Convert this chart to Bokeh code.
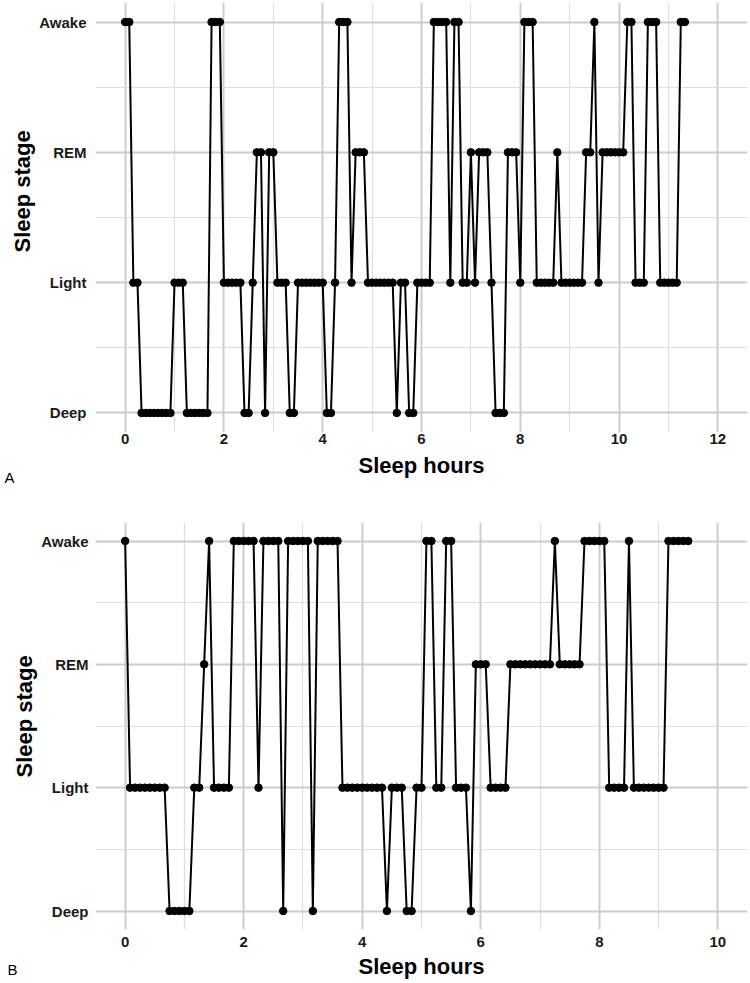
from bokeh.plotting import figure
from bokeh.models import FixedTicker, Range1d, ColumnDataSource, Title
from bokeh.layouts import column
from bokeh.embed import file_html
from bokeh.resources import INLINE

# ---- data ----
stage_levels = ["Deep", "Light", "REM", "Awake"]
stage_names = {"D": "Deep", "L": "Light", "R": "REM", "W": "Awake"}
epoch_minutes = 5

# panel A: one stage per 5-minute epoch
stages_a = [
    "W", "W", "L", "L", "D", "D", "D", "D", "D", "D", "D", "D",
    "L", "L", "L", "D", "D", "D", "D", "D", "D", "W", "W", "W",
    "L", "L", "L", "L", "L", "D", "D", "L", "R", "R", "D", "R",
    "R", "L", "L", "L", "D", "D", "L", "L", "L", "L", "L", "L",
    "L", "D", "D", "L", "W", "W", "W", "L", "R", "R", "R", "L",
    "L", "L", "L", "L", "L", "L", "D", "L", "L", "D", "D", "L",
    "L", "L", "L", "W", "W", "W", "W", "L", "W", "W", "L", "L",
    "R", "L", "R", "R", "R", "L", "D", "D", "D", "R", "R", "R",
    "L", "W", "W", "W", "L", "L", "L", "L", "L", "R", "L", "L",
    "L", "L", "L", "L", "R", "R", "W", "L", "R", "R", "R", "R",
    "R", "R", "W", "W", "L", "L", "L", "W", "W", "W", "L", "L",
    "L", "L", "L", "W", "W",
]

# panel B: one stage per 5-minute epoch
stages_b = [
    "W", "L", "L", "L", "L", "L", "L", "L", "L", "D", "D", "D",
    "D", "D", "L", "L", "R", "W", "L", "L", "L", "L", "W", "W",
    "W", "W", "W", "L", "W", "W", "W", "W", "D", "W", "W", "W",
    "W", "W", "D", "W", "W", "W", "W", "W", "L", "L", "L", "L",
    "L", "L", "L", "L", "L", "D", "L", "L", "L", "D", "D", "L",
    "L", "W", "W", "L", "L", "W", "W", "L", "L", "L", "D", "R",
    "R", "R", "L", "L", "L", "L", "R", "R", "R", "R", "R", "R",
    "R", "R", "R", "W", "R", "R", "R", "R", "R", "W", "W", "W",
    "W", "W", "L", "L", "L", "L", "W", "L", "L", "L", "L", "L",
    "L", "L", "W", "W", "W", "W", "W",
]

x_ticks_a = [0, 2, 4, 6, 8, 10, 12]
x_minor_a = [1, 3, 5, 7, 9, 11]
x_ticks_b = [0, 2, 4, 6, 8, 10]
x_minor_b = [1, 3, 5, 7, 9]

FONT = "Liberation Sans"


def hypno_source(stages):
    hours = [i * epoch_minutes / 60 for i in range(len(stages))]
    level = [stage_levels.index(stage_names[s]) + 1 for s in stages]
    return ColumnDataSource(dict(hours=hours, level=level,
                                 stage=[stage_names[s] for s in stages]))


def make_panel(stages, xr, xt, xm, height, top, bottom, left,
               xlab_standoff, xtitle_standoff, ylab_standoff, ytitle_offset,
               tag, tag_standoff):
    p = figure(width=750, height=height,
               x_range=Range1d(*xr), y_range=Range1d(0.85, 4.15),
               output_backend="svg", toolbar_location=None,
               min_border_left=left, min_border_right=3,
               min_border_top=top, min_border_bottom=bottom)
    p.outline_line_color = None
    p.background_fill_color = "white"
    p.border_fill_color = "white"

    p.xaxis.ticker = FixedTicker(ticks=xt, minor_ticks=xm)
    p.yaxis.ticker = FixedTicker(ticks=[1, 2, 3, 4], minor_ticks=[1.5, 2.5, 3.5])
    p.yaxis.major_label_overrides = {i + 1: s for i, s in enumerate(stage_levels)}

    for ax in (p.xaxis[0], p.yaxis[0]):
        ax.axis_line_color = None
        ax.major_tick_line_color = None
        ax.minor_tick_line_color = None
        ax.major_tick_out = 0
        ax.major_tick_in = 0
        ax.major_label_text_font = FONT
        ax.major_label_text_font_style = "bold"
        ax.major_label_text_font_size = "15px"
        ax.major_label_text_color = "#1a1a1a"
        ax.axis_label_text_font = FONT
        ax.axis_label_text_font_style = "bold"
        ax.axis_label_text_font_size = "22px"
        ax.axis_label_text_color = "black"

    p.xaxis.axis_label = "Sleep hours"
    p.xaxis.major_label_standoff = xlab_standoff
    p.xaxis.axis_label_standoff = xtitle_standoff
    p.yaxis.major_label_standoff = ylab_standoff

    ytitle = Title(text="Sleep stage", align="left", offset=ytitle_offset,
                   text_font=FONT, text_font_style="bold",
                   text_font_size="22px", text_color="black", standoff=4)
    p.add_layout(ytitle, "left")

    tag_title = Title(text=tag, align="left", offset=4 - left,
                      vertical_align="top", standoff=tag_standoff,
                      text_font=FONT, text_font_style="normal",
                      text_font_size="15px", text_color="black")
    p.add_layout(tag_title, "below")

    for g in (p.xgrid[0], p.ygrid[0]):
        g.grid_line_color = "#cccccc"
        g.grid_line_width = 2
        g.minor_grid_line_color = "#dedede"
        g.minor_grid_line_width = 1.2

    src = hypno_source(stages)
    p.line("hours", "level", source=src, line_color="black", line_width=2)
    p.scatter("hours", "level", source=src, size=7.5, fill_color="black",
              line_color="black")
    return p


pa = make_panel(stages_a, (-0.6, 12.6), x_ticks_a, x_minor_a,
                height=490, top=2, bottom=58, left=95,
                xlab_standoff=-3, xtitle_standoff=6, ylab_standoff=5,
                ytitle_offset=180, tag="A", tag_standoff=-24)
pb = make_panel(stages_b, (-0.5, 10.5), x_ticks_b, x_minor_b,
                height=493, top=32, bottom=54, left=92,
                xlab_standoff=3, xtitle_standoff=4, ylab_standoff=3,
                ytitle_offset=152, tag="B", tag_standoff=-42)

layout = column(pa, pb, spacing=0)
open("out.html", "w").write(file_html(layout, INLINE))
